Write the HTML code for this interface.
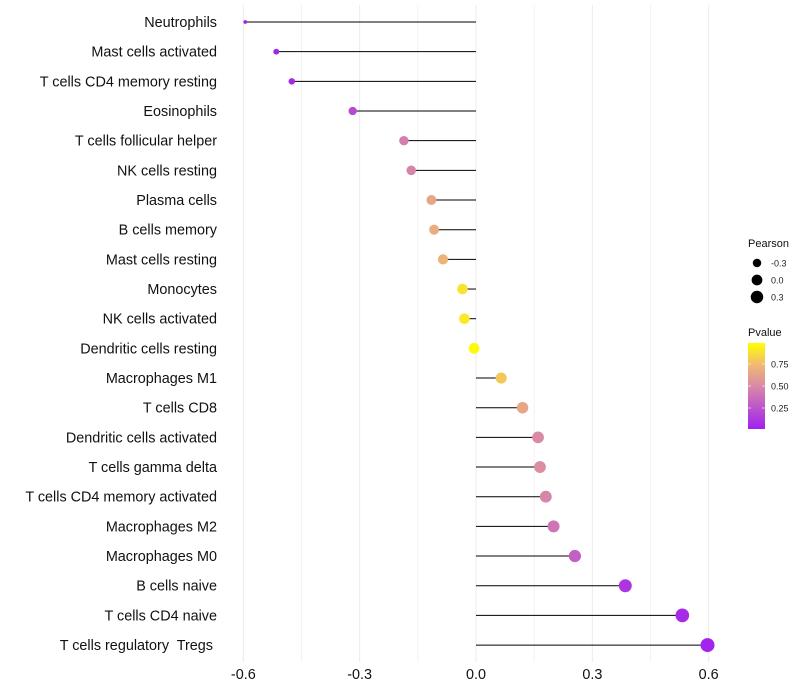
<!DOCTYPE html>
<html><head><meta charset="utf-8"><style>
body{margin:0;background:#fff;font-family:"Liberation Sans",sans-serif}
svg{display:block}
text{white-space:pre}
</style></head><body>
<svg id="c" width="800" height="700">
<defs><linearGradient id="pg" x1="0" y1="1" x2="0" y2="0">
<stop offset="0" stop-color="#A020F0"/><stop offset="0.5" stop-color="#D98AA6"/><stop offset="0.75" stop-color="#F0BA72"/><stop offset="1" stop-color="#FFFF00"/></linearGradient></defs>
</svg>
<script>
const categories=["Neutrophils","Mast cells activated","T cells CD4 memory resting","Eosinophils","T cells follicular helper","NK cells resting","Plasma cells","B cells memory","Mast cells resting","Monocytes","NK cells activated","Dendritic cells resting","Macrophages M1","T cells CD8","Dendritic cells activated","T cells gamma delta","T cells CD4 memory activated","Macrophages M2","Macrophages M0","B cells naive","T cells CD4 naive","T cells regulatory  Tregs "];
const pearson=[-0.595,-0.515,-0.475,-0.318,-0.186,-0.167,-0.115,-0.108,-0.085,-0.035,-0.030,-0.005,0.065,0.12,0.16,0.165,0.18,0.20,0.255,0.385,0.532,0.597];
const pvalue=[0.01,0.03,0.05,0.2,0.45,0.47,0.65,0.68,0.72,0.9,0.92,0.98,0.8,0.65,0.5,0.52,0.48,0.4,0.3,0.1,0.05,0.02];
const xTicks=[-0.6,-0.3,0.0,0.3,0.6];
const xTickLabels=["-0.6","-0.3","0.0","0.3","0.6"];
const sizeLegend=[-0.3,0.0,0.3];
const pTicks=[0.25,0.5,0.75];
const svg=document.getElementById('c');const NS='http://www.w3.org/2000/svg';
function mk(t,a,p){const e=document.createElementNS(NS,t);for(const k in a)e.setAttribute(k,a[k]);(p||svg).appendChild(e);return e;}
const x=v=>476+v*387.8;
const y=i=>22+i*29.67;
const r=v=>1.5+5.5*Math.sqrt(Math.max(0,(v+0.6)/1.2));
const stops=[[0,[160,32,240]],[0.5,[217,138,166]],[0.75,[240,186,114]],[1,[255,255,0]]];
function col(p){for(let i=1;i<stops.length;i++){if(p<=stops[i][0]){const a=stops[i-1],b=stops[i],t=(p-a[0])/(b[0]-a[0]);return 'rgb('+a[1].map((c,j)=>Math.round(c+(b[1][j]-c)*t)).join(',')+')';}}return 'rgb(255,255,0)';}
for(let k=-4;k<=4;k++){const v=k*0.15;const g=mk('line',{x1:x(v),x2:x(v),y1:5,y2:662,stroke:'#ebebeb','stroke-width':k%2===0?1:0.6});

}
xTicks.forEach((v,i)=>{const t=mk('text',{x:x(v),y:679,'text-anchor':'middle','font-size':14.4,fill:'#111'});t.textContent=xTickLabels[i];

});
categories.forEach((c,i)=>{
const t=mk('text',{x:217,y:y(i)+5,'text-anchor':'end','font-size':14.4,fill:'#111'});t.textContent=c;


const l=mk('line',{x1:x(0),x2:x(pearson[i]),y1:y(i),y2:y(i),stroke:'#000','stroke-width':1});


const d=mk('circle',{cx:x(pearson[i]),cy:y(i),r:r(pearson[i]),fill:col(pvalue[i])});


});
const lt=mk('text',{x:748,y:247,'font-size':11,fill:'#111'});lt.textContent='Pearson';


sizeLegend.forEach((v,i)=>{const cy=263+i*17;
const d=mk('circle',{cx:757,cy:cy,r:r(v),fill:'#000'});


const t=mk('text',{x:771,y:cy+3.5,'font-size':9,fill:'#222'});t.textContent=v.toFixed(1);

});
const pt=mk('text',{x:748,y:336,'font-size':11,fill:'#111'});pt.textContent='Pvalue';


const bar=mk('rect',{x:748,y:343,width:17,height:86,fill:'url(#pg)'});


const py=p=>386-(p-0.5)*88;
pTicks.forEach(p=>{mk('line',{x1:748,x2:751,y1:py(p),y2:py(p),stroke:'#fff','stroke-opacity':0.6});mk('line',{x1:762,x2:765,y1:py(p),y2:py(p),stroke:'#fff','stroke-opacity':0.6});
const t=mk('text',{x:771,y:py(p)+3.5,'font-size':9,fill:'#222'});t.textContent=p.toFixed(2);

});
</script>
</body></html>
